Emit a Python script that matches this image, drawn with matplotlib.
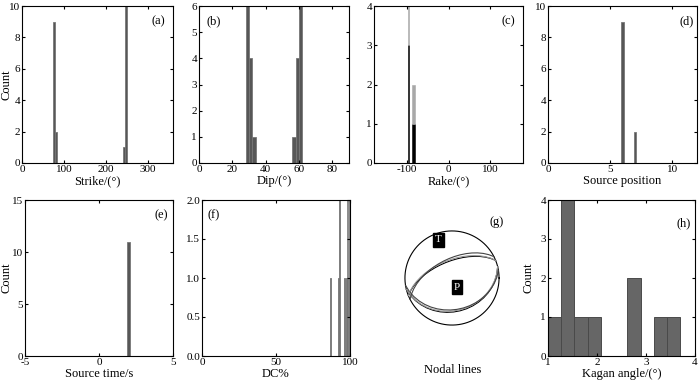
import numpy as np
import matplotlib.pyplot as plt

plt.rcParams['font.family'] = ['Liberation Serif', 'DejaVu Serif']
plt.rcParams['font.size'] = 9
plt.rcParams['xtick.labelsize'] = 8
plt.rcParams['ytick.labelsize'] = 8
plt.rcParams['axes.unicode_minus'] = False
plt.rcParams['xtick.direction'] = 'in'
plt.rcParams['ytick.direction'] = 'in'
plt.rcParams['xtick.top'] = True
plt.rcParams['ytick.right'] = True
plt.rcParams['xtick.major.size'] = 2.5
plt.rcParams['ytick.major.size'] = 2.5
plt.rcParams['xtick.major.pad'] = 1.5
plt.rcParams['ytick.major.pad'] = 1.5
plt.rcParams['axes.linewidth'] = 0.8

# ---- data ----
strike_x = [76, 81, 243, 248]
strike_n = [9, 2, 1, 10]
strike_w = 5.5

dip_x = [29, 31, 33, 57, 59, 61]
dip_n = [6.5, 4, 1, 1, 4, 6.5]
dip_w = 2

rake_x = [-97, -85]
rake_black = [3, 1]
rake_gray = [1.2, 1]
rake_w = [3.5, 6]

pos_x = [6, 7]
pos_n = [9, 2]

time_x = [2]
time_n = [11]

dc_x = [86.8, 92.0, 93.0, 96.5, 97.5, 98.5, 99.5]
dc_n = [1, 1, 2, 1, 1, 1, 1]
dc_top_x = [98.5, 99.5]
dc_top_n = [1, 1]

kagan_edges = [1.0, 1.27, 1.54, 1.81, 2.08, 2.35, 2.62, 2.89, 3.16, 3.43, 3.70]
kagan_n = [1, 4, 1, 1, 0, 0, 2, 0, 1, 1]

# nodal planes (strike, dip) of a few solutions
planes1 = [(76, 29), (76, 31), (81, 33)]
planes2 = [(248, 61), (248, 59), (243, 57)]
# P / T axes (azimuth, plunge)
axes_pt = {'T': (340, 15), 'P': (152, 72)}

face = '#575757'
edge = '#777777'

fig = plt.figure(figsize=(7.0, 3.84), dpi=100)


def box(l, r, t, b):
    return fig.add_axes([l / 700, (384 - b) / 384, (r - l) / 700, (b - t) / 384])


def tag(ax, x, y, s):
    ax.text(x, y, s, transform=ax.transAxes, ha='center', va='center')


def count_label(ax, xfrac):
    ax.set_ylabel('Count')
    ax.yaxis.set_label_coords(xfrac, 0.5)


# (a)
ax = box(22, 173, 6, 163)
ax.bar(strike_x, strike_n, width=strike_w, color=face, edgecolor=edge, linewidth=0.6)
ax.set_xlim(0, 360)
ax.set_ylim(0, 10)
ax.set_xticks([0, 100, 200, 300])
ax.set_yticks([0, 2, 4, 6, 8, 10])
ax.set_xlabel('Strike/(°)', labelpad=1)
count_label(ax, -0.06)
tag(ax, 0.9, 0.9, '(a)')

# (b)
ax = box(199, 349, 6, 163)
ax.bar(dip_x, dip_n, width=dip_w, color=face, edgecolor=edge, linewidth=0.6)
ax.set_xlim(0, 90)
ax.set_ylim(0, 6)
ax.set_xticks([0, 20, 40, 60, 80])
ax.set_xlabel('Dip/(°)', labelpad=1)
tag(ax, 0.1, 0.9, '(b)')

# (c)
ax = box(374, 523, 6, 163)
ax.bar(rake_x, rake_black, width=rake_w, color='black', edgecolor='black', linewidth=0.4)
ax.bar(rake_x, rake_gray, bottom=rake_black, width=rake_w, color='#a8a8a8', edgecolor='#a8a8a8', linewidth=0.4)
ax.set_xlim(-180, 180)
ax.set_ylim(0, 4)
ax.set_xticks([-100, 0, 100])
ax.set_yticks([0, 1, 2, 3, 4])
ax.set_xlabel('Rake/(°)', labelpad=1)
tag(ax, 0.9, 0.9, '(c)')

# (d)
ax = box(548, 697, 6, 163)
ax.bar(pos_x, pos_n, width=0.18, color=face, edgecolor=edge, linewidth=0.6)
ax.set_xlim(0, 12)
ax.set_ylim(0, 10)
ax.set_xticks([0, 5, 10])
ax.set_yticks([0, 2, 4, 6, 8, 10])
ax.set_xlabel('Source position', labelpad=1)
tag(ax, 0.93, 0.9, '(d)')

# (e)
ax = box(25, 173, 200, 356)
ax.bar(time_x, time_n, width=0.15, color=face, edgecolor=edge, linewidth=0.6)
ax.set_xlim(-5, 5)
ax.set_ylim(0, 15)
ax.set_xticks([-5, 0, 5])
ax.set_yticks([0, 5, 10, 15])
ax.set_xlabel('Source time/s', labelpad=1)
count_label(ax, -0.085)
tag(ax, 0.92, 0.9, '(e)')

# (f)
ax = box(202, 350, 200, 356)
ax.bar(dc_x, dc_n, width=0.8, color=face, edgecolor=edge, linewidth=0.6)
ax.bar(dc_top_x, dc_top_n, bottom=1, width=0.8, color='#b0b0b0', edgecolor='#808080', linewidth=0.6)
ax.set_xlim(0, 100)
ax.set_ylim(0, 2)
ax.set_xticks([0, 50, 100])
ax.set_yticks([0, 0.5, 1.0, 1.5, 2.0])
ax.set_yticklabels(['%.1f' % v for v in [0, 0.5, 1.0, 1.5, 2.0]])
ax.set_xlabel('DC%', labelpad=1)
tag(ax, 0.08, 0.9, '(f)')

# (g) nodal lines, lower hemisphere equal-area
ax = box(404, 500, 230, 326)
ax.set_xlim(-1.02, 1.02)
ax.set_ylim(-1.02, 1.02)
ax.set_aspect('equal')
ax.axis('off')
th = np.linspace(0, 2 * np.pi, 200)
ax.plot(np.cos(th), np.sin(th), color='black', lw=0.8)


def project(az, pl):
    r = np.sqrt(2) * np.sin(np.radians(90 - pl) / 2)
    return r * np.sin(np.radians(az)), r * np.cos(np.radians(az))


def nodal(strike, dip):
    t = np.radians(np.linspace(0, 180, 19))
    s = np.radians(strike)
    d = np.radians(dip)
    sv = np.array([np.sin(s), np.cos(s), 0.0])
    dv = np.array([np.cos(d) * np.sin(s + np.pi / 2), np.cos(d) * np.cos(s + np.pi / 2), np.sin(d)])
    v = np.outer(np.cos(t), sv) + np.outer(np.sin(t), dv)
    pl = np.degrees(np.arcsin(np.clip(v[:, 2], -1, 1)))
    az = np.degrees(np.arctan2(v[:, 0], v[:, 1]))
    return project(az, pl)


for i, (s, d) in enumerate(planes1 + planes2):
    x, y = nodal(s, d)
    ax.plot(x, y, color=['black', '#999999', '#444444'][i % 3], lw=0.8)

for name, (az, pl) in axes_pt.items():
    x, y = project(az, pl)
    ax.text(x, y, name, color='white', ha='center', va='center', fontsize=8,
            bbox=dict(boxstyle='square,pad=0.2', fc='black', ec='black'))

fig.text(497 / 700, 1 - 222 / 384, '(g)', ha='center', va='center')
fig.text(453 / 700, 1 - 370 / 384, 'Nodal lines', ha='center', va='center')

# (h)
ax = box(548, 695, 200, 356)
ax.bar(kagan_edges[:-1], kagan_n, width=np.diff(kagan_edges), align='edge',
       color='#666666', edgecolor='#4a4a4a', linewidth=0.7)
ax.set_xlim(1, 4)
ax.set_ylim(0, 4)
ax.set_xticks([1, 2, 3, 4])
ax.set_yticks([0, 1, 2, 3, 4])
ax.set_xlabel('Kagan angle/(°)', labelpad=1)
count_label(ax, -0.09)
tag(ax, 0.92, 0.85, '(h)')

fig.savefig('out.png', dpi=100)
